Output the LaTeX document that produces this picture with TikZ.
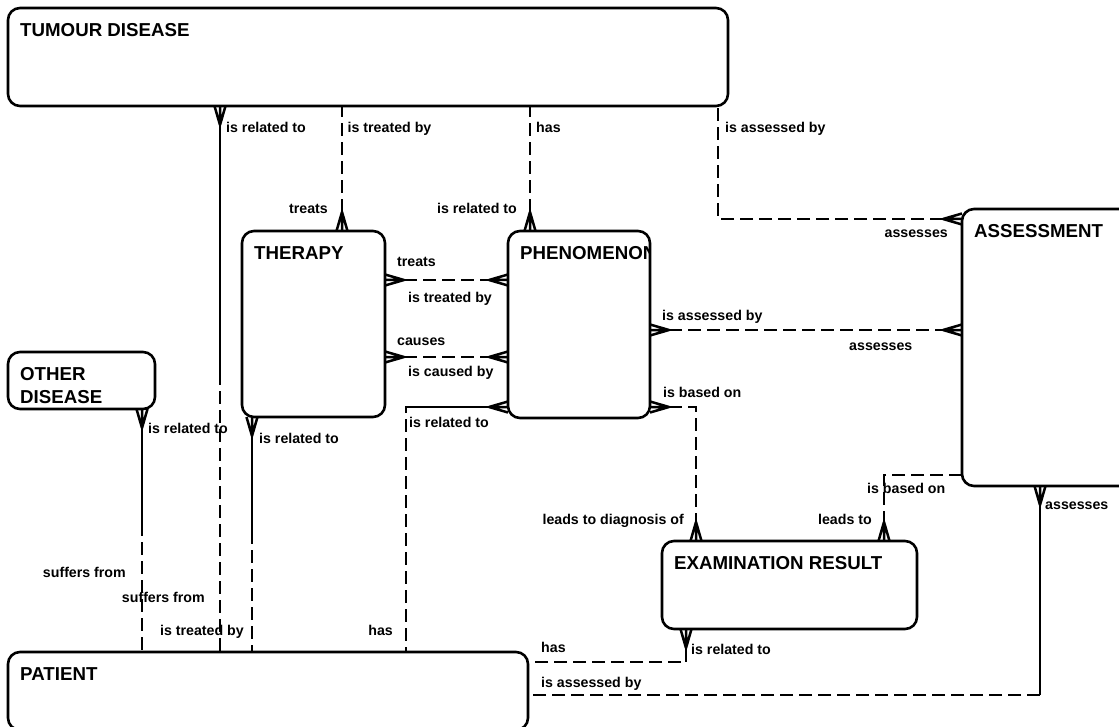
\documentclass[tikz,border=0pt]{standalone}
\usepackage{fontspec}
\setmainfont{Liberation Sans}
\usetikzlibrary{arrows.meta}

% crow's foot for the many end
\pgfdeclarearrow{
  name=Crow,
  setup code={
    \pgfarrowssettipend{0pt}
    \pgfarrowssetlineend{0pt}
    \pgfarrowssetbackend{-19pt}
    \pgfarrowsupperhullpoint{0pt}{5.5pt}
    \pgfarrowsupperhullpoint{-19pt}{0pt}
  },
  drawing code={
    \pgfsetdash{}{0pt}
    \pgfsetroundjoin
    \pgfpathmoveto{\pgfqpoint{0pt}{5.5pt}}
    \pgfpathlineto{\pgfqpoint{-19pt}{0pt}}
    \pgfpathlineto{\pgfqpoint{0pt}{-5.5pt}}
    \pgfpathmoveto{\pgfqpoint{-19pt}{0pt}}
    \pgfpathlineto{\pgfqpoint{0pt}{0pt}}
    \pgfusepathqstroke
  }
}

\tikzset{
  entity/.style={draw, line width=2.6pt, rounded corners=12pt, anchor=north west, inner sep=0pt, outer sep=0pt},
  title/.style={anchor=north west, inner sep=0pt, align=left, font=\bfseries\fontsize{18.7}{22.6}\selectfont},
  lab/.style={inner sep=0pt, font=\bfseries\fontsize{14.2}{16}\selectfont},
  rel/.style={line width=2.5pt},
  opt/.style={rel, dash pattern=on 13pt off 6pt}
}

\begin{document}
\begin{tikzpicture}[x=1pt,y=-1pt]
\useasboundingbox (0,0) rectangle (1119,727);

% entities
\node[entity, minimum width=720pt, minimum height=98pt] (tumour) at (8,8) {};
\node[entity, minimum width=143pt, minimum height=186pt] (therapy) at (242,231) {};
\node[entity, minimum width=142pt, minimum height=187pt] (phenomenon) at (508,231) {};
\node[entity, minimum width=190pt, minimum height=277pt] (assessment) at (962,209) {};
\node[entity, minimum width=147pt, minimum height=57pt] (other) at (8,352) {};
\node[entity, minimum width=255pt, minimum height=88pt] (exam) at (662,541) {};
\node[entity, minimum width=520pt, minimum height=78pt] (patient) at (8,652) {};

\node[title] (tumourname) at ([shift={(12,15.3)}]tumour.north west) {TUMOUR DISEASE};
\node[title] (therapyname) at ([shift={(12,15.3)}]therapy.north west) {THERAPY};
\begin{scope}
  \clip (phenomenon.north west) rectangle (phenomenon.south east);
  \node[title] (phenomenonname) at ([shift={(12,15.3)}]phenomenon.north west) {PHENOMENON};
\end{scope}
\node[title] (assessmentname) at ([shift={(12,15.3)}]assessment.north west) {ASSESSMENT};
\node[title] (othername) at ([shift={(12,15.3)}]other.north west) {OTHER\\DISEASE};
\node[title] (examname) at ([shift={(12,15.3)}]exam.north west) {EXAMINATION RESULT};
\node[title] (patientname) at ([shift={(12,15.3)}]patient.north west) {PATIENT};

% relationships
\draw[opt] (tumour.south -| 220,0) -- coordinate[midway] (tp) (patient.north -| 220,0);
\draw[rel, Crow-] (tumour.south -| 220,0) -- (tp);
\draw[opt, Crow-] (therapy.north -| 342,0) -- (tumour.south -| 342,0);
\draw[opt, Crow-] (phenomenon.north -| 530,0) -- (tumour.south -| 530,0);
\draw[opt, Crow-] (assessment.west |- 0,219) -| (tumour.south -| 718,0);
\draw[opt, Crow-Crow] (therapy.east |- 0,280) -- (phenomenon.west |- 0,280);
\draw[opt, Crow-Crow] (therapy.east |- 0,357) -- (phenomenon.west |- 0,357);
\draw[opt, Crow-Crow] (phenomenon.east |- 0,330) -- (assessment.west |- 0,330);
\draw[opt] (phenomenon.west |- 0,407) -| coordinate[pos=.5] (pp) (patient.north -| 406,0);
\draw[rel, Crow-] (phenomenon.west |- 0,407) -- (pp);
\draw[opt, Crow-Crow] (phenomenon.east |- 0,407) -| (exam.north -| 696,0);
\draw[opt, -Crow] (assessment.west |- 0,475) -| (exam.north -| 884,0);
\draw[opt] (assessment.south -| 1040,0) |- coordinate[pos=.5] (ap) (patient.east |- 0,695);
\draw[rel, Crow-] (assessment.south -| 1040,0) -- (ap);
\draw[opt] (exam.south -| 686,0) |- coordinate[pos=.5] (ep) (patient.east |- 0,662);
\draw[rel, Crow-] (exam.south -| 686,0) -- (ep);
\draw[opt] (other.south -| 142,0) -- coordinate[midway] (op) (patient.north -| 142,0);
\draw[rel, Crow-] (other.south -| 142,0) -- (op);
\draw[opt] (therapy.south -| 252,0) -- coordinate[midway] (hp) (patient.north -| 252,0);
\draw[rel, Crow-] (therapy.south -| 252,0) -- (hp);

% role names
\node[lab, anchor=base west] (tprel) at (226,133) {is related to};
\node[lab, anchor=base east] (tpsuf) at (205,602) {suffers from};
\node[lab, anchor=base west] (thtreated) at (347.5,133) {is treated by};
\node[lab, anchor=base east] (thtreats) at (328,214) {treats};
\node[lab, anchor=base west] (tphas) at (536,133) {has};
\node[lab, anchor=base east] (tprelto) at (517,214) {is related to};
\node[lab, anchor=base west] (taby) at (725,133) {is assessed by};
\node[lab, anchor=base east] (taass) at (948,238) {assesses};
\node[lab, anchor=base west] (hptreats) at (397,267) {treats};
\node[lab, anchor=base west] (hptreated) at (408,303) {is treated by};
\node[lab, anchor=base west] (hpcauses) at (397,345) {causes};
\node[lab, anchor=base west] (hpcaused) at (408,376) {is caused by};
\node[lab, anchor=base west] (paby) at (662,320) {is assessed by};
\node[lab, anchor=base west] (paass) at (849,350) {assesses};
\node[lab, anchor=base west] (pprel) at (409,427) {is related to};
\node[lab, anchor=base east] (pphas) at (393,635) {has};
\node[lab, anchor=base west] (pebased) at (663,397) {is based on};
\node[lab, anchor=base east] (pelead) at (684,524) {leads to diagnosis of};
\node[lab, anchor=base west] (aebased) at (867,493) {is based on};
\node[lab, anchor=base east] (aelead) at (872,524) {leads to};
\node[lab, anchor=base west] (apass) at (1045,509) {assesses};
\node[lab, anchor=base west] (apaby) at (541,687) {is assessed by};
\node[lab, anchor=base west] (ephas) at (541,652) {has};
\node[lab, anchor=base west] (eprel) at (691,654) {is related to};
\node[lab, anchor=base west] (oprel) at (148,433) {is related to};
\node[lab, anchor=base east] (opsuf) at (126,577) {suffers from};
\node[lab, anchor=base west] (hprel) at (259,443) {is related to};
\node[lab, anchor=base east] (hptby) at (244,635) {is treated by};
\end{tikzpicture}
\end{document}
